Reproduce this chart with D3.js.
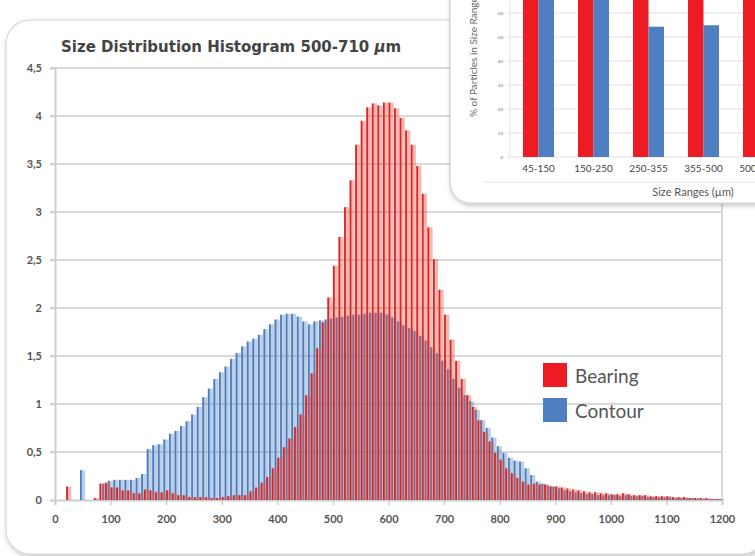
<!DOCTYPE html>
<html>
<head>
<meta charset="utf-8">
<script src="https://cdn.jsdelivr.net/npm/d3@7"></script>
<style>
  body { margin: 0; background: #fff; }
  svg { display: block; font-family: Lato, "Open Sans", sans-serif; }
</style>
</head>
<body>
<div id="chart"></div>
<script>
// Bearing: bins starting at 0, 10, 20 ... 1190 um (% per bin)
const bearingStart = 0;
const bearing = [
  0, 0, 0.14, 0, 0, 0, 0, 0.02, 0.17, 0.18,
  0.13, 0.13, 0.10, 0.10, 0.07, 0.07, 0.11, 0.10, 0.08, 0.08,
  0.10, 0.07, 0.05, 0.05, 0.03, 0.03, 0.03, 0.03, 0.02, 0.02,
  0.03, 0.04, 0.05, 0.05, 0.05, 0.09, 0.13, 0.18, 0.24, 0.33,
  0.44, 0.55, 0.64, 0.76, 0.89, 1.09, 1.32, 1.58, 1.85, 2.11,
  2.44, 2.74, 3.05, 3.33, 3.70, 3.95, 4.09, 4.13, 4.11, 4.14,
  4.14, 4.08, 3.98, 3.85, 3.70, 3.48, 3.19, 2.84, 2.51, 2.19,
  1.93, 1.67, 1.45, 1.26, 1.09, 0.97, 0.83, 0.71, 0.61, 0.49,
  0.42, 0.33, 0.28, 0.23, 0.19, 0.16, 0.17, 0.16, 0.16, 0.14,
  0.14, 0.13, 0.12, 0.11, 0.10, 0.09, 0.08, 0.08, 0.07, 0.07,
  0.06, 0.06, 0.07, 0.06, 0.05, 0.05, 0.05, 0.04, 0.04, 0.04,
  0.04, 0.03, 0.03, 0.03, 0.02, 0.02, 0.02, 0.02, 0.01, 0.01
];
// Contour: bins starting at 5, 15, 25 ... 1195 um
const contourStart = 5;
const contour = [
  0, 0, 0, 0, 0.31, 0, 0, 0, 0.17, 0.20,
  0.21, 0.21, 0.21, 0.21, 0.23, 0.27, 0.53, 0.57, 0.58, 0.63,
  0.69, 0.72, 0.77, 0.82, 0.89, 0.97, 1.07, 1.16, 1.26, 1.33,
  1.39, 1.47, 1.53, 1.60, 1.65, 1.68, 1.72, 1.78, 1.83, 1.88,
  1.93, 1.94, 1.94, 1.91, 1.86, 1.83, 1.86, 1.87, 1.88, 1.89,
  1.90, 1.91, 1.92, 1.93, 1.93, 1.94, 1.95, 1.95, 1.95, 1.93,
  1.90, 1.86, 1.82, 1.79, 1.76, 1.71, 1.66, 1.59, 1.53, 1.45,
  1.36, 1.26, 1.17, 1.09, 1.03, 0.94, 0.83, 0.75, 0.65, 0.56,
  0.49, 0.44, 0.41, 0.40, 0.33, 0.26, 0.19, 0.17, 0.15, 0.14,
  0.12, 0.10, 0.09, 0.08, 0.07, 0.06, 0.06, 0.05, 0.05, 0.05,
  0.05, 0.04, 0.05, 0.04, 0.04, 0.04, 0.03, 0.03, 0.03, 0.03,
  0.03, 0.02, 0.02, 0.02, 0.02, 0.015, 0.01, 0.01, 0.01, 0.01
];
const binWidth = 10;
const yTicks = [0, 0.5, 1, 1.5, 2, 2.5, 3, 3.5, 4, 4.5];
const xTicks = [0, 100, 200, 300, 400, 500, 600, 700, 800, 900, 1000, 1100, 1200];
const seriesNames = ["Bearing", "Contour"];

// inset chart (partly hidden in the original)
const insetCats = ["45-150", "150-250", "250-355", "355-500", "500-710"];
const insetBearing = [97, 97, 96, 96, 97];
const insetContour = [96, 95, 54.3, 54.9, 30];
const insetTicks = [0, 10, 20, 30, 40, 50, 60];

const W = 755, H = 556;
const svg = d3.select("#chart").append("svg")
  .attr("width", W).attr("height", H);

const defs = svg.append("defs");
const shadow = defs.append("filter").attr("id", "shadow")
  .attr("x", "-10%").attr("y", "-10%").attr("width", "130%").attr("height", "130%");
shadow.append("feDropShadow")
  .attr("dx", 1.5).attr("dy", 2).attr("stdDeviation", 2.5)
  .attr("flood-color", "#000").attr("flood-opacity", 0.25);

// main card
svg.append("rect")
  .attr("x", 6).attr("y", 20).attr("width", 760).attr("height", 534)
  .attr("rx", 24)
  .attr("fill", "#fff").attr("stroke", "#d6d6d6").attr("stroke-width", 1.2)
  .attr("filter", "url(#shadow)");

const x = d3.scaleLinear().domain([0, 1200]).range([55, 722]);
const y = d3.scaleLinear().domain([0, 4.5]).range([500, 68]);

const colors = {
  red: "#d9262b", redFill: "rgba(226,80,60,0.40)",
  blue: "#4a7dc0", blueFill: "rgba(79,129,189,0.38)"
};

// grid
svg.append("g").selectAll("line")
  .data(yTicks.filter(d => d > 0))
  .join("line")
  .attr("x1", 50).attr("x2", x(1200))
  .attr("y1", d => y(d)).attr("y2", d => y(d))
  .attr("stroke", "#d9d9d9").attr("stroke-width", 2);

// axes
const yAxis = svg.append("g")
  .attr("transform", `translate(${x(0)},0)`)
  .call(d3.axisLeft(y).tickValues(yTicks).tickSize(5)
    .tickFormat(d => String(d).replace(".", ",")));
const xAxis = svg.append("g")
  .attr("transform", `translate(0,${y(0)})`)
  .call(d3.axisBottom(x).tickValues(xTicks).tickSize(5).tickPadding(10)
    .tickFormat(d => String(d)));
[xAxis, yAxis].forEach(a => {
  a.select(".domain").attr("stroke", "#cfcfcf").attr("stroke-width", 2);
  a.selectAll(".tick line").attr("stroke", "#cfcfcf").attr("stroke-width", 1.5);
  a.selectAll("text").attr("fill", "#555").attr("font-size", 11)
    .attr("font-weight", 700).attr("font-family", "Lato, sans-serif");
});
yAxis.selectAll("text").attr("x", -13);

svg.append("line")
  .attr("x1", x(1200)).attr("x2", x(1200))
  .attr("y1", y(0)).attr("y2", y(4.5))
  .attr("stroke", "#d9d9d9").attr("stroke-width", 2);

// bars
const bw = x(binWidth) - x(0);
function drawSeries(values, start, fill, edge) {
  const data = values.map((v, i) => ({ pos: start + i * binWidth, v }))
    .filter(d => d.v > 0);
  const g = svg.append("g");
  g.selectAll("rect.fill").data(data).join("rect")
    .attr("class", "fill")
    .attr("x", d => x(d.pos))
    .attr("width", bw - 0.4)
    .attr("y", d => y(d.v))
    .attr("height", d => y(0) - y(d.v))
    .attr("fill", fill);
  g.selectAll("rect.edge").data(data).join("rect")
    .attr("class", "edge")
    .attr("x", d => x(d.pos))
    .attr("width", 1.8)
    .attr("y", d => y(d.v))
    .attr("height", d => y(0) - y(d.v))
    .attr("fill", edge);
}
drawSeries(contour, contourStart, colors.blueFill, colors.blue);
drawSeries(bearing, bearingStart, colors.redFill, colors.red);

// title
const title = svg.append("text")
  .attr("x", 61).attr("y", 52)
  .attr("font-family", "'DejaVu Sans', sans-serif")
  .attr("font-size", 15).attr("font-weight", 700)
  .attr("fill", "#444");
title.append("tspan").text("Size Distribution Histogram 500-710 ");
title.append("tspan").attr("font-style", "italic").text("µ");
title.append("tspan").text("m");

// legend
const legend = svg.append("g").attr("transform", "translate(543,363)");
const legendColors = ["#ed1c24", "#4f7fc0"];
seriesNames.forEach((name, i) => {
  legend.append("rect").attr("x", 0).attr("y", i * 35)
    .attr("width", 24).attr("height", 24).attr("fill", legendColors[i]);
  legend.append("text").attr("x", 32).attr("y", i * 35 + 19.5)
    .attr("font-size", 19).attr("fill", "#555").text(name);
});

// inset card
const inset = svg.append("g");
inset.append("rect")
  .attr("x", 450).attr("y", -40).attr("width", 340).attr("height", 243)
  .attr("rx", 20)
  .attr("fill", "#fff").attr("stroke", "#cfcfcf").attr("stroke-width", 1.2)
  .attr("filter", "url(#shadow)");

const ix = d3.scaleBand().domain(insetCats).range([511, 786])
  .paddingInner(0.436).paddingOuter(0.218);
const ixs = d3.scaleBand().domain(seriesNames).range([0, ix.bandwidth()]);
const iy = d3.scaleLinear().domain([0, 60]).range([157, 13]);

inset.append("g").selectAll("line")
  .data(insetTicks)
  .join("line")
  .attr("x1", 506).attr("x2", 790)
  .attr("y1", d => iy(d)).attr("y2", d => iy(d))
  .attr("stroke", "#e2e2e2").attr("stroke-width", 1);
inset.append("line")
  .attr("x1", 510).attr("x2", 510).attr("y1", iy(0)).attr("y2", -40)
  .attr("stroke", "#e2e2e2");
inset.append("g").selectAll("text")
  .data(insetTicks)
  .join("text")
  .attr("x", 503).attr("y", d => iy(d) + 1.5)
  .attr("text-anchor", "end")
  .attr("font-size", 4.5).attr("fill", "#777")
  .text(d => d);

const groups = inset.append("g").selectAll("g")
  .data(insetCats.map((c, i) => ({ c, vals: [insetBearing[i], insetContour[i]] })))
  .join("g")
  .attr("transform", d => `translate(${ix(d.c)},0)`);
groups.selectAll("rect")
  .data(d => d.vals.map((v, j) => ({ s: seriesNames[j], v })))
  .join("rect")
  .attr("x", d => ixs(d.s))
  .attr("width", ixs.bandwidth())
  .attr("y", d => iy(d.v))
  .attr("height", d => iy(0) - iy(d.v))
  .attr("fill", (d, j) => legendColors[j]);

inset.append("g").selectAll("text")
  .data(insetCats)
  .join("text")
  .attr("x", d => ix(d) + ix.bandwidth() / 2)
  .attr("y", 172)
  .attr("text-anchor", "middle")
  .attr("font-size", 10).attr("fill", "#444")
  .text(d => d);

inset.append("line")
  .attr("x1", 483).attr("x2", 790).attr("y1", 182).attr("y2", 182)
  .attr("stroke", "#e2e2e2");
inset.append("text")
  .attr("x", 693).attr("y", 196)
  .attr("text-anchor", "middle")
  .attr("font-size", 11).attr("fill", "#555")
  .text("Size Ranges (µm)");
inset.append("text")
  .attr("transform", "translate(477,117) rotate(-90)")
  .attr("font-size", 10).attr("fill", "#666")
  .text("% of Particles in Size Ranges");
</script>
</body>
</html>
